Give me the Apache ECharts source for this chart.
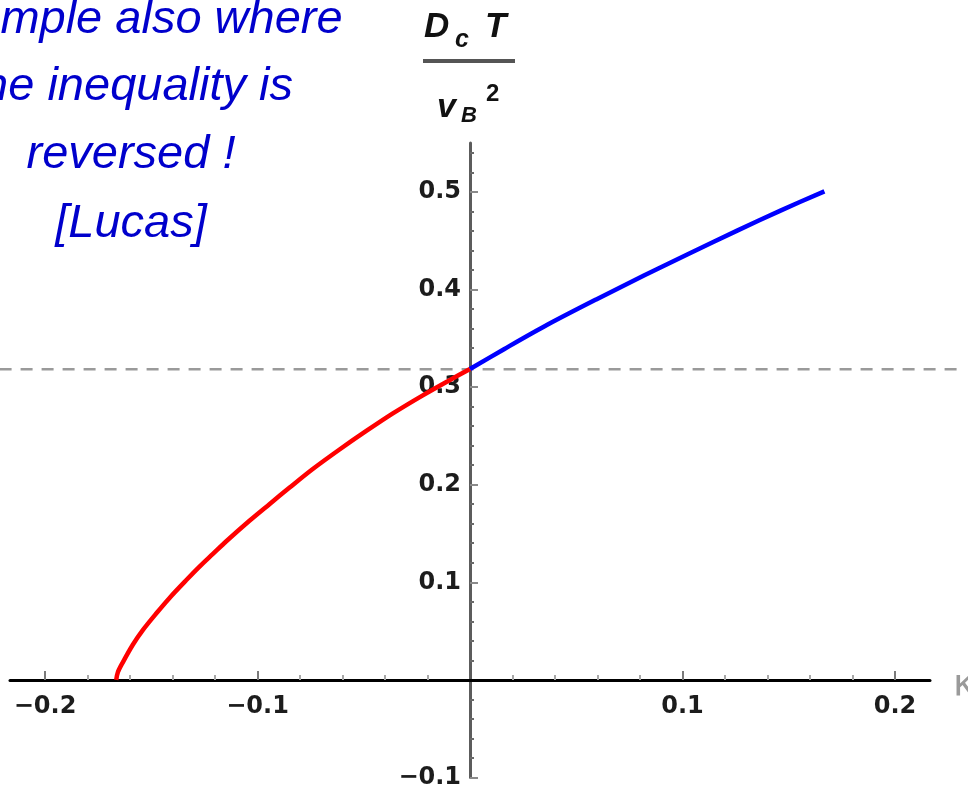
<!DOCTYPE html>
<html>
<head>
<meta charset="utf-8">
<script src="https://cdn.jsdelivr.net/npm/echarts@6/dist/echarts.min.js"></script>
<style>
  html, body { margin: 0; padding: 0; background: #ffffff; }
  #chart { width: 968px; height: 789px; }
</style>
</head>
<body>
<div id="chart"></div>
<script>
// Branch with kappa < 0 (drawn in red): D_c T / v_B^2 against kappa
const redKappa = [-0.1665, -0.1657, -0.1634, -0.1587, -0.1540, -0.1477, -0.1414, -0.1336, -0.1273, -0.1210,
                  -0.1147, -0.1038, -0.0944, -0.0849, -0.0740, -0.0614, -0.0488, -0.0363, -0.0222, -0.0096, 0];
const redRatio = [0, 0.008, 0.018, 0.036, 0.051, 0.068, 0.084, 0.102, 0.116, 0.129,
                  0.142, 0.163, 0.180, 0.197, 0.216, 0.236, 0.255, 0.273, 0.2915, 0.307, 0.3185];

// Branch with kappa > 0 (drawn in blue)
const blueKappa = [0, 0.0162, 0.0366, 0.0601, 0.0821, 0.1025, 0.1260, 0.1464, 0.1668];
const blueRatio = [0.3185, 0.339, 0.364, 0.3905, 0.4145, 0.436, 0.4605, 0.481, 0.5005];

// Dashed reference level 1/pi, drawn across the whole figure width
const referenceLevel = 0.3183;
const referenceSpan = [-0.2214, 0.2294];

// Axis ranges and tick positions
const kappaRange = [-0.2165, 0.2165];
const ratioRange = [-0.1, 0.55];
const kappaTicks = [-0.2, -0.1, 0.1, 0.2];
const ratioTicks = [-0.1, 0.1, 0.2, 0.3, 0.4, 0.5];

// Side note
const noteLines = ['Example also where', 'the inequality is', 'reversed !', '[Lucas]'];

const toPairs = (xs, ys) => xs.map((x, i) => [x, ys[i]]);

// Labels only on the listed tenths; zero is left unlabelled on both axes
const labelFor = ticks => v => {
  const hit = ticks.find(t => Math.abs(t - v) < 1e-6);
  if (hit === undefined) return '';
  return (hit < 0 ? '\u2212' : '') + Math.abs(hit).toFixed(1);
};

// Plot box; the axes are shifted inward so that they cross at the origin
const W = 968, H = 789;
const gridBox = { left: 10, right: 38, top: 143, bottom: 11.5 };
const plotW = W - gridBox.left - gridBox.right;
const plotH = H - gridBox.top - gridBox.bottom;
const xAxisOffset = -plotH * (0 - ratioRange[0]) / (ratioRange[1] - ratioRange[0]);
const yAxisOffset = -plotW * (0 - kappaRange[0]) / (kappaRange[1] - kappaRange[0]);

const tickFont = {
  fontFamily: 'DejaVu Sans',
  fontWeight: 'bold',
  fontSize: 24,
  color: '#1c1c1c'
};

const noteFont = 'italic 47px "Liberation Sans", Arial, sans-serif';
const noteCenters = [20, 87, 155, 224];

const graphics = noteLines.map((line, i) => ({
  type: 'text',
  z: 10,
  style: {
    text: line,
    x: 131,
    y: noteCenters[i],
    font: noteFont,
    fill: '#0000cc',
    textAlign: 'center',
    textVerticalAlign: 'middle'
  }
}));

// Axis title as a stacked fraction:  D_c T  over  v_B^2
const fracFont = size => 'italic bold ' + size + 'px "Liberation Sans", Arial, sans-serif';
const fractionParts = [
  { text: 'D', x: 424, y: 27, font: fracFont(35) },
  { text: 'c', x: 455, y: 40, font: fracFont(25) },
  { text: 'T', x: 485, y: 27, font: fracFont(35) },
  { text: 'v', x: 437, y: 108, font: fracFont(34) },
  { text: 'B', x: 461, y: 116, font: fracFont(22) },
  { text: '2', x: 486, y: 94, font: 'bold 24px "Liberation Sans", Arial, sans-serif' }
];
fractionParts.forEach(p => graphics.push({
  type: 'text',
  z: 10,
  style: {
    text: p.text, x: p.x, y: p.y, font: p.font, fill: '#111111',
    textAlign: 'left', textVerticalAlign: 'middle'
  }
}));
graphics.push({
  type: 'rect',
  z: 10,
  shape: { x: 423, y: 59, width: 92, height: 4 },
  style: { fill: '#555555' }
});

const chart = echarts.init(document.getElementById('chart'), null, { renderer: 'canvas' });

chart.setOption({
  animation: false,
  backgroundColor: '#ffffff',
  grid: Object.assign({ containLabel: false, outerBoundsMode: 'none' }, gridBox),
  xAxis: {
    type: 'value',
    position: 'bottom',
    offset: xAxisOffset,
    min: kappaRange[0],
    max: kappaRange[1],
    name: '\u03ba',
    nameLocation: 'end',
    nameGap: 23,
    nameTextStyle: {
      fontFamily: 'DejaVu Sans',
      fontSize: 38,
      lineHeight: 13,
      color: '#9a9a9a',
      verticalAlign: 'top'
    },
    axisLine: { show: true, onZero: false, lineStyle: { color: '#000000', width: 3 } },
    axisTick: {
      show: true, inside: true, length: 9, customValues: kappaTicks,
      lineStyle: { color: '#7a7a7a', width: 2 }
    },
    minorTick: { show: true, splitNumber: 5, length: 5, lineStyle: { color: '#a8a8a8', width: 2 } },
    axisLabel: Object.assign({ show: true, formatter: labelFor(kappaTicks), margin: 15 }, tickFont),
    splitLine: { show: false },
    minorSplitLine: { show: false }
  },
  yAxis: {
    type: 'value',
    position: 'left',
    offset: yAxisOffset,
    min: ratioRange[0],
    max: ratioRange[1],
    interval: 0.1,
    axisLine: { show: true, onZero: false, lineStyle: { color: '#5c5c5c', width: 3 } },
    axisTick: {
      show: true, inside: true, length: 8, customValues: ratioTicks,
      lineStyle: { color: '#8a8a8a', width: 2 }
    },
    minorTick: { show: true, splitNumber: 5, length: 4, lineStyle: { color: '#6a6a6a', width: 2 } },
    axisLabel: Object.assign({ show: true, formatter: labelFor(ratioTicks), margin: 9 }, tickFont),
    splitLine: { show: false },
    minorSplitLine: { show: false }
  },
  series: [
    {
      type: 'custom',
      name: 'reference',
      clip: false,
      silent: true,
      z: 1,
      encode: { x: [0, 1], y: 2 },
      data: [[referenceSpan[0], referenceSpan[1], referenceLevel]],
      renderItem: (params, api) => {
        const a = api.coord([api.value(0), api.value(2)]);
        const b = api.coord([api.value(1), api.value(2)]);
        return {
          type: 'line',
          shape: { x1: a[0], y1: a[1], x2: b[0], y2: b[1] },
          style: { stroke: '#9a9a9a', lineWidth: 2.5, lineDash: [12, 9] }
        };
      }
    },
    {
      type: 'line',
      name: 'kappa < 0',
      data: toPairs(redKappa, redRatio),
      showSymbol: false,
      smooth: 0.3,
      z: 3,
      lineStyle: { color: '#ff0000', width: 4.5 },
      itemStyle: { color: '#ff0000' }
    },
    {
      type: 'line',
      name: 'kappa > 0',
      data: toPairs(blueKappa, blueRatio),
      showSymbol: false,
      smooth: 0.3,
      z: 3,
      lineStyle: { color: '#0000ff', width: 4.5 },
      itemStyle: { color: '#0000ff' }
    }
  ],
  graphic: graphics
});
</script>
</body>
</html>
